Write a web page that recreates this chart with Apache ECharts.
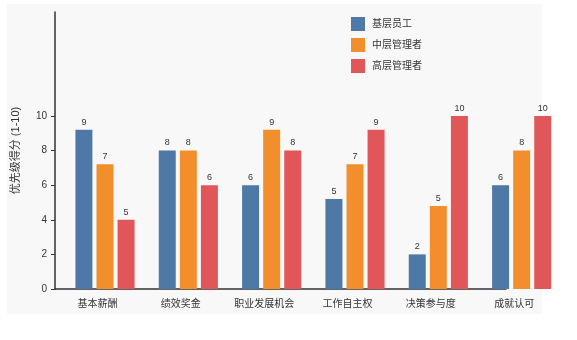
<!DOCTYPE html>
<html><head><meta charset="utf-8">
<script src="https://cdn.jsdelivr.net/npm/echarts@6/dist/echarts.min.js"></script>
<style>html,body{margin:0;padding:0;background:#fff}#c{width:577px;height:340px}</style>
</head><body><div id="c"></div>
<script>
const categories = ['基本薪酬','绩效奖金','职业发展机会','工作自主权','决策参与度','成就认可'];
const seriesNames = ['基层员工','中层管理者','高层管理者'];
const staffValues = [9.2, 8, 6, 5.2, 2, 6];
const midValues = [7.2, 8, 9.2, 7.2, 4.8, 8];
const seniorValues = [4, 6, 8, 9.2, 10, 10];
const staffLabels = ['9','8','6','5','2','6'];
const midLabels = ['7','8','9','7','5','8'];
const seniorLabels = ['5','6','8','9','10','10'];
const yTicks = [0, 2, 4, 6, 8, 10];
const colors = ['#4e79a7', '#f28e2b', '#e15759'];
const FONT = '"Liberation Sans", "Noto Sans CJK SC", sans-serif';

const chart = echarts.init(document.getElementById('c'), null, {renderer: 'canvas'});
function mk(name, vals, labs, color) {
  return {
    name: name, type: 'bar', xAxisIndex: 0, yAxisIndex: 0,
    data: vals, barWidth: 17, barGap: '24%',
    itemStyle: {color: color},
    label: {show: true, position: 'top', distance: 3, fontSize: 9, color: '#333', fontFamily: FONT,
      formatter: p => labs[p.dataIndex]},
    emphasis: {disabled: true}
  };
}
chart.setOption({
  animation: false,
  backgroundColor: '#ffffff',
  textStyle: {fontFamily: FONT},
  graphic: [{type: 'rect', z: -10, silent: true, shape: {x: 7, y: 4, width: 535, height: 310}, style: {fill: '#f8f8f8'}}],
  legend: {
    orient: 'vertical', left: 346, top: 12, itemWidth: 14, itemHeight: 14, itemGap: 7,
    icon: 'rect', data: seriesNames,
    textStyle: {fontSize: 10, color: '#333', fontFamily: FONT, padding: [0,0,0,2]}
  },
  grid: [
    {left: 63.33, width: 500, top: 12, bottom: 51},
    {left: 55, right: 71, top: 12, bottom: 51}
  ],
  xAxis: [
    {type: 'category', gridIndex: 0, data: categories,
     axisLine: {show: false}, axisTick: {show: false},
     axisLabel: {fontSize: 10, color: '#333', margin: 10, padding: [0, 15, 0, 0], fontFamily: FONT}},
    {type: 'value', gridIndex: 1, min: 0, max: 1,
     axisLine: {show: true, lineStyle: {color: '#333', width: 1.5}}, axisTick: {show: false},
     axisLabel: {show: false}, splitLine: {show: false}}
  ],
  yAxis: [
    {type: 'value', gridIndex: 0, min: 0, max: 16, show: false, splitLine: {show: false}},
    {type: 'value', gridIndex: 1, min: 0, max: 16, interval: 2,
     name: '优先级得分 (1-10)', nameLocation: 'middle', nameGap: 34,
     nameTextStyle: {fontSize: 11, color: '#333', fontFamily: FONT},
     axisLine: {show: true, lineStyle: {color: '#333', width: 1.5}},
     axisTick: {show: true, length: 4, customValues: yTicks, lineStyle: {color: '#333'}},
     axisLabel: {fontSize: 10, color: '#333', margin: 8, customValues: yTicks, fontFamily: FONT},
     splitLine: {show: false}}
  ],
  series: [
    mk(seriesNames[0], staffValues, staffLabels, colors[0]),
    mk(seriesNames[1], midValues, midLabels, colors[1]),
    mk(seriesNames[2], seniorValues, seniorLabels, colors[2])
  ]
});
</script></body></html>
